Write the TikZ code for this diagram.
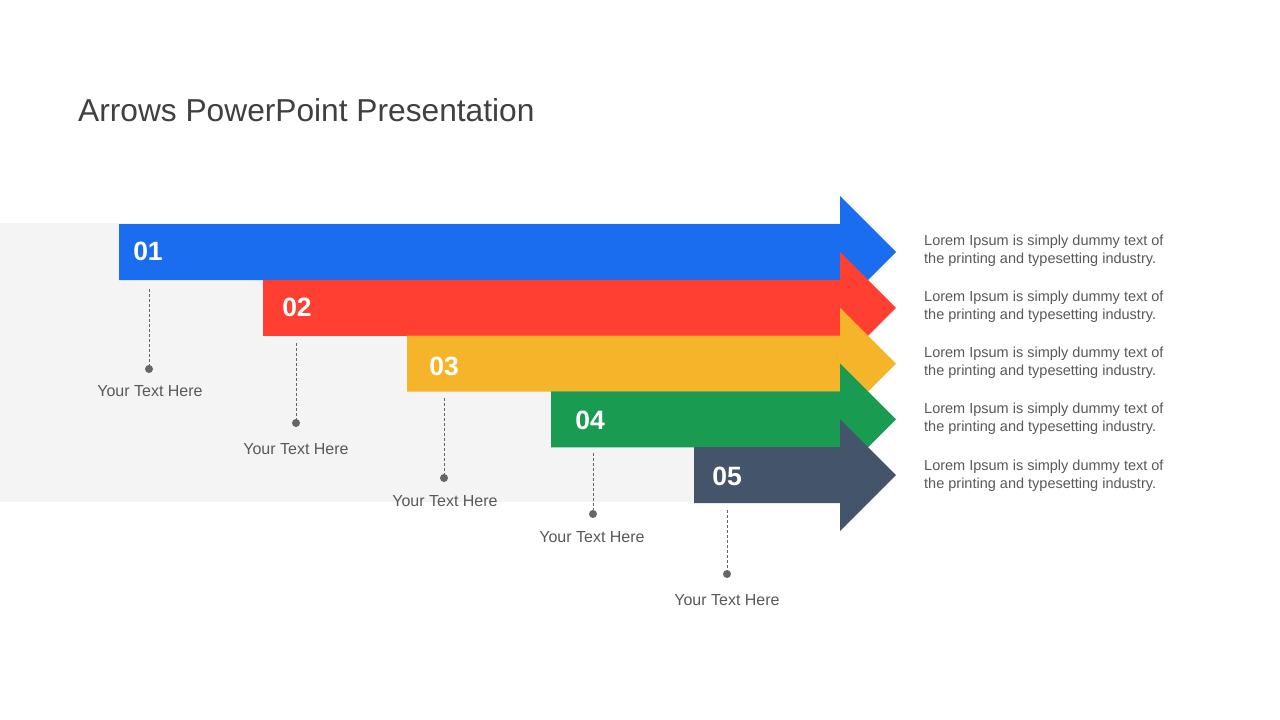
\documentclass[tikz,border=0pt]{standalone}
\usepackage{fontspec}
\setmainfont{Liberation Sans}
\definecolor{cband}{HTML}{F4F4F4}
\definecolor{cblue}{HTML}{1A6DEE}
\definecolor{cred}{HTML}{FF3F31}
\definecolor{cyellow}{HTML}{F6B42B}
\definecolor{cgreen}{HTML}{1A9B52}
\definecolor{cslate}{HTML}{44546A}
\definecolor{ctitle}{HTML}{404040}
\definecolor{ctext}{HTML}{595959}
\definecolor{cdot}{HTML}{666666}
\tikzset{
  numlabel/.style={text=white,font=\fontsize{26.5}{30}\selectfont\bfseries,inner sep=0pt},
  caption/.style={text=ctext,font=\fontsize{16}{19}\selectfont,inner sep=0pt},
  desc/.style={text=ctext,font=\fontsize{14.5}{18}\selectfont,align=left,anchor=west,inner sep=0pt},
  leader/.style={draw=cdot,dashed,line width=0.9pt,dash pattern=on 3pt off 2pt},
  dotmark/.style={circle,fill=cdot,minimum size=8pt,inner sep=0pt},
}
\newcommand{\arrowshape}[4]{% color, x0, center y, name
  \fill[#1] (#2,#3-28) -- (840,#3-28) -- (840,#3-56) -- (896,#3) -- (840,#3+56) -- (840,#3+28) -- (#2,#3+28) -- cycle;
}
\begin{document}
\begin{tikzpicture}[x=1pt,y=-1pt]
\useasboundingbox (0,0) rectangle (1280,720);
\fill[white] (0,0) rectangle (1280,720);
% gray band
\fill[cband] (0,223) rectangle (840,501.5);
% title
\node[anchor=base west,text=ctitle,font=\fontsize{31.7}{38}\selectfont,inner sep=0pt] (title) at (78,121) {Arrows PowerPoint Presentation};
% arrows
\arrowshape{cblue}{119}{252}{a1}
\arrowshape{cred}{263}{307.8}{a2}
\arrowshape{cyellow}{407}{363.6}{a3}
\arrowshape{cgreen}{551}{419.4}{a4}
\arrowshape{cslate}{694}{475.2}{a5}
% numbers
\node[numlabel] (n1) at (148,251) {01};
\node[numlabel] (n2) at (297,307) {02};
\node[numlabel] (n3) at (444,366) {03};
\node[numlabel] (n4) at (590,420) {04};
\node[numlabel] (n5) at (727,476) {05};
% leaders
\coordinate (t1) at (149,289);
\coordinate (t2) at (296,343);
\coordinate (t3) at (444,398);
\coordinate (t4) at (593,453);
\coordinate (t5) at (727,510);
\node[dotmark] (d1) at (149,369) {};
\node[dotmark] (d2) at (296,423) {};
\node[dotmark] (d3) at (444,478) {};
\node[dotmark] (d4) at (593,514) {};
\node[dotmark] (d5) at (727,574) {};
\draw[leader] (t1) -- (d1.center);
\draw[leader] (t2) -- (d2.center);
\draw[leader] (t3) -- (d3.center);
\draw[leader] (t4) -- (d4.center);
\draw[leader] (t5) -- (d5.center);
\node[caption] (c1) at (150,391) {Your Text Here};
\node[caption] (c2) at (296,449) {Your Text Here};
\node[caption] (c3) at (445,501) {Your Text Here};
\node[caption] (c4) at (592,537) {Your Text Here};
\node[caption] (c5) at (727,600) {Your Text Here};
% descriptions
\node[desc] (l1) at (924,251) {Lorem Ipsum is simply dummy text of\\the printing and typesetting industry.};
\node[desc] (l2) at (924,307) {Lorem Ipsum is simply dummy text of\\the printing and typesetting industry.};
\node[desc] (l3) at (924,363) {Lorem Ipsum is simply dummy text of\\the printing and typesetting industry.};
\node[desc] (l4) at (924,419) {Lorem Ipsum is simply dummy text of\\the printing and typesetting industry.};
\node[desc] (l5) at (924,476) {Lorem Ipsum is simply dummy text of\\the printing and typesetting industry.};
\end{tikzpicture}
\end{document}
